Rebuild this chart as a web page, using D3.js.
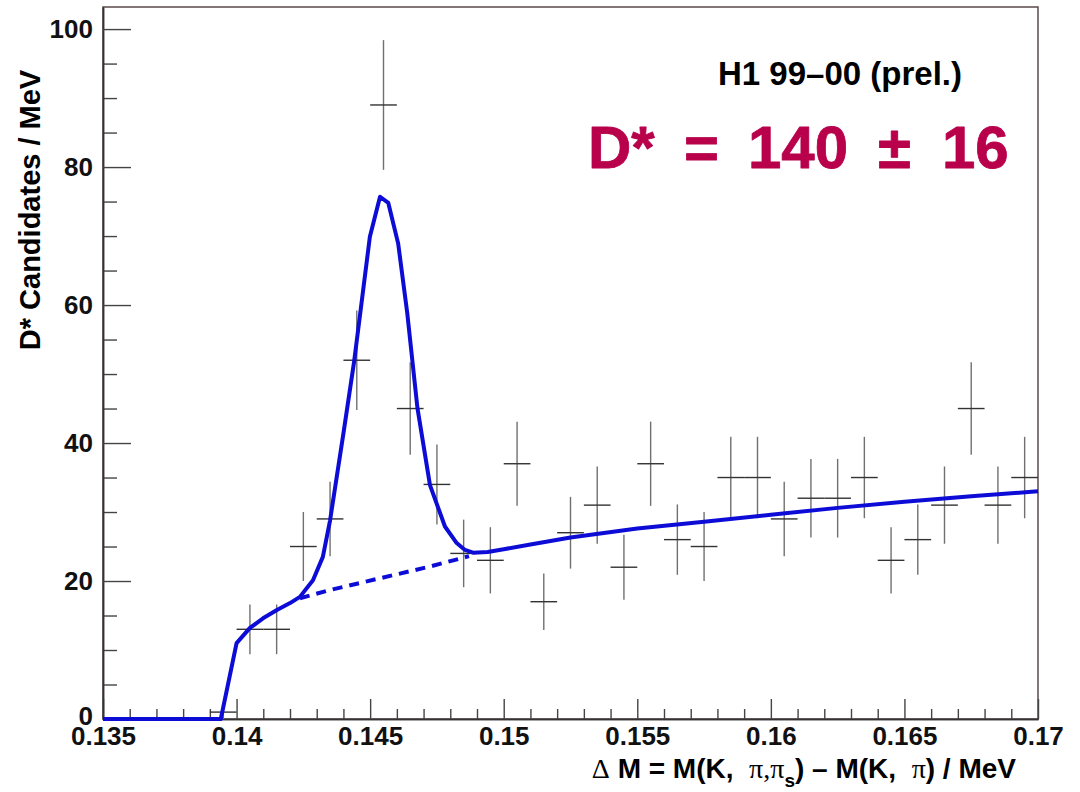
<!DOCTYPE html>
<html>
<head>
<meta charset="utf-8">
<script src="https://cdn.jsdelivr.net/npm/d3@7"></script>
<style>
body { margin: 0; background: #fff; }
svg { display: block; font-family: "Liberation Sans", Arial, sans-serif; }
</style>
</head>
<body>
<div class="container"></div>
<script>
// histogram bins (centres, MeV) and counts with errors
const binCenters = [0.1395, 0.1405, 0.1415, 0.1425, 0.1435, 0.1445, 0.1455, 0.1465, 0.1475, 0.1485,
                    0.1495, 0.1505, 0.1515, 0.1525, 0.1535, 0.1545, 0.1555, 0.1565, 0.1575, 0.1585,
                    0.1595, 0.1605, 0.1615, 0.1625, 0.1635, 0.1645, 0.1655, 0.1665, 0.1675, 0.1685, 0.1695]
const counts = [1, 13, 13, 25, 29, 52, 89, 45, 34, 24,
                23, 37, 17, 27, 31, 22, 37, 26, 25, 35,
                35, 29, 32, 32, 35, 23, 26, 31, 45, 31, 35]
const countErrors = [1, 3.6, 3.6, 5, 5.4, 7.2, 9.4, 6.7, 5.8, 4.9,
                     4.8, 6.1, 4.1, 5.2, 5.6, 4.7, 6.1, 5.1, 5, 5.9,
                     5.9, 5.4, 5.7, 5.7, 5.9, 4.8, 5.1, 5.6, 6.7, 5.6, 5.9]
const binHalfWidth = 0.0005

// fitted signal + background (solid)
const fitX = [0.135, 0.13941, 0.14000, 0.14050, 0.14099, 0.14151, 0.14200, 0.14237, 0.14286, 0.14323,
              0.14350, 0.14400, 0.14440, 0.14474, 0.14499, 0.14537, 0.14568, 0.14605, 0.14639, 0.14677,
              0.14724, 0.14780, 0.14824, 0.14855, 0.14885, 0.1494, 0.15, 0.151, 0.1525, 0.155,
              0.1575, 0.16, 0.1625, 0.165, 0.1675, 0.17]
const fitY = [0, 0, 11.0, 13.2, 14.6, 15.8, 16.8, 17.7, 20.1, 23.5,
              28.8, 41.4, 51.8, 62.2, 69.9, 75.7, 74.8, 68.9, 58.8, 45.1,
              33.9, 27.9, 25.5, 24.5, 24.1, 24.2, 24.6, 25.3, 26.3, 27.6,
              28.6, 29.6, 30.6, 31.5, 32.3, 33.0]

// background only, under the peak (dashed)
const bkgX = [0.14237, 0.1435, 0.14537, 0.14724, 0.1487]
const bkgY = [17.5, 18.7, 20.4, 22.1, 23.6]

const xTicks = [0.135, 0.14, 0.145, 0.15, 0.155, 0.16, 0.165, 0.17]
const xTickLabels = ["0.135", "0.14", "0.145", "0.15", "0.155", "0.16", "0.165", "0.17"]
const yTicks = [0, 20, 40, 60, 80, 100]

const width = 1080
const height = 792
const margin = {left: 103, right: 42, top: 7, bottom: 73}
const blue = "#0c0cd6"

const xScale = d3.scaleLinear()
                .domain([0.135, 0.17])
                .range([margin.left, width - margin.right])
const yScale = d3.scaleLinear()
                .domain([0, 103.2])
                .range([height - margin.bottom, margin.top])

const svg = d3.select(".container").append("svg")
            .attr("width", width)
            .attr("height", height)

svg.append("rect")
    .attr("width", width)
    .attr("height", height)
    .attr("fill", "#fff")

// frame
svg.append("rect")
    .attr("x", margin.left)
    .attr("y", margin.top)
    .attr("width", width - margin.left - margin.right)
    .attr("height", height - margin.top - margin.bottom)
    .attr("fill", "none")
    .attr("stroke", "#5a4a4a")
    .attr("stroke-width", 1.5)

const xMinor = d3.range(135, 171).filter(d => d % 5 !== 0).map(d => d / 1000)
const yMinor = d3.range(0, 101, 5).filter(d => d % 20 !== 0)

const xAxis = d3.axisBottom(xScale).tickValues(xTicks)
                .tickFormat((d, i) => xTickLabels[i])
                .tickSizeInner(-20).tickSizeOuter(0).tickPadding(8)
const xAxisMinor = d3.axisBottom(xScale).tickValues(xMinor)
                .tickFormat("").tickSizeInner(-10).tickSizeOuter(0)
const yAxis = d3.axisLeft(yScale).tickValues(yTicks)
                .tickSizeInner(-28).tickSizeOuter(0).tickPadding(10)
const yAxisMinor = d3.axisLeft(yScale).tickValues(yMinor)
                .tickFormat("").tickSizeInner(-14).tickSizeOuter(0)

function styleAxis(g){
    g.attr("font-size", 26)
     .attr("font-family", "Liberation Sans, Arial, sans-serif")
     .attr("font-weight", "bold")
    g.selectAll("line").attr("stroke", "#444").attr("stroke-width", 1.4)
    g.select(".domain").attr("stroke", "#333").attr("stroke-width", 1.5)
    g.selectAll("text").attr("fill", "#111")
}

svg.append("g").attr("transform", `translate(0,${height - margin.bottom})`).call(xAxisMinor).call(styleAxis)
svg.append("g").attr("id", "x-axis").attr("transform", `translate(0,${height - margin.bottom})`).call(xAxis).call(styleAxis)
svg.append("g").attr("transform", `translate(${margin.left},0)`).call(yAxisMinor).call(styleAxis)
svg.append("g").attr("id", "y-axis").attr("transform", `translate(${margin.left},0)`).call(yAxis).call(styleAxis)

// the "0" label sits just above "0.135", as in the original
svg.select("#y-axis").selectAll(".tick text").filter(d => d === 0).attr("dy", "0.2em")

// data points with error bars
const points = binCenters.map((c, i) => ({c: c, n: counts[i], e: countErrors[i]}))
const bars = svg.append("g").attr("class", "points")

bars.selectAll(".vbar")
    .data(points)
    .enter()
    .append("line")
    .attr("class", "vbar")
    .attr("x1", d => xScale(d.c))
    .attr("x2", d => xScale(d.c))
    .attr("y1", d => yScale(Math.max(0, d.n - d.e)))
    .attr("y2", d => yScale(d.n + d.e))
    .attr("stroke", "#707070")
    .attr("stroke-width", 1.4)

bars.selectAll(".hbar")
    .data(points)
    .enter()
    .append("line")
    .attr("class", "hbar")
    .attr("x1", d => xScale(d.c - binHalfWidth))
    .attr("x2", d => xScale(d.c + binHalfWidth))
    .attr("y1", d => yScale(d.n))
    .attr("y2", d => yScale(d.n))
    .attr("stroke", "#333")
    .attr("stroke-width", 1.4)

// fit curves, drawn as polylines like the original
const line = d3.line()
               .x(d => xScale(d[0]))
               .y(d => yScale(d[1]))

svg.append("path")
    .datum(bkgX.map((x, i) => [x, bkgY[i]]))
    .attr("d", line)
    .attr("fill", "none")
    .attr("stroke", blue)
    .attr("stroke-width", 4)
    .attr("stroke-dasharray", "10,7")

svg.append("path")
    .datum(fitX.map((x, i) => [x, fitY[i]]))
    .attr("d", line)
    .attr("fill", "none")
    .attr("stroke", blue)
    .attr("stroke-width", 4)
    .attr("stroke-linejoin", "round")

// labels
svg.append("text")
    .attr("transform", "translate(40,210) rotate(-90)")
    .attr("text-anchor", "middle")
    .attr("font-size", 29)
    .attr("font-weight", "bold")
    .text("D* Candidates / MeV")

const xTitle = svg.append("text")
    .attr("x", 1016)
    .attr("y", 778)
    .attr("text-anchor", "end")
    .attr("font-size", 28)
    .attr("font-weight", "bold")
xTitle.append("tspan").attr("font-family", "Liberation Serif, serif").attr("font-weight", "normal").text("\u0394")
xTitle.append("tspan").text(" M = M(K,\u00a0\u00a0")
xTitle.append("tspan").attr("font-family", "Liberation Serif, serif").attr("font-weight", "normal").text("\u03c0,\u03c0")
xTitle.append("tspan").attr("font-size", 19).attr("dy", 9).text("s")
xTitle.append("tspan").attr("dy", -9).text(") \u2013 M(K,\u00a0\u00a0")
xTitle.append("tspan").attr("font-family", "Liberation Serif, serif").attr("font-weight", "normal").text("\u03c0")
xTitle.append("tspan").text(") / MeV")

svg.append("text")
    .attr("x", 718)
    .attr("y", 85)
    .attr("font-size", 33)
    .attr("font-weight", "bold")
    .text("H1 99\u201300 (prel.)")

const result = svg.append("text")
    .attr("y", 168)
    .attr("font-size", 60)
    .attr("font-weight", "bold")
    .attr("fill", "#b8004b")
    .attr("stroke", "#b8004b")
    .attr("stroke-width", 0.8)
    .attr("stroke-linejoin", "round")
result.append("tspan").attr("x", 588).text("D*")
result.append("tspan").attr("x", 684).text("=")
result.append("tspan").attr("x", 748).text("140")
result.append("tspan").attr("x", 878).text("\u00b1")
result.append("tspan").attr("x", 942).text("16")
</script>
</body>
</html>
